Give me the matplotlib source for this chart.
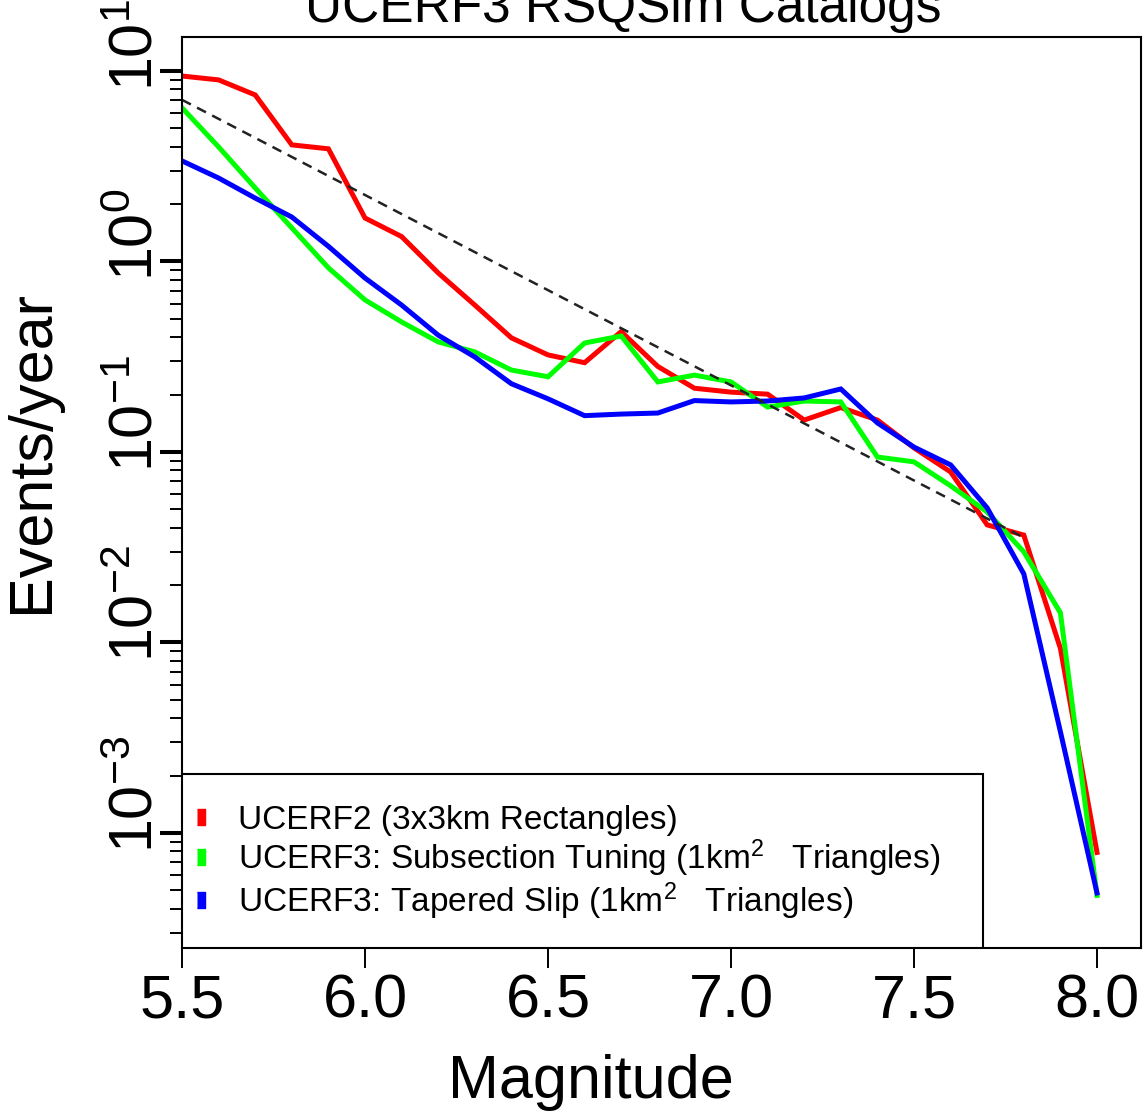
import numpy as np
import matplotlib
matplotlib.use('Agg')
import matplotlib.pyplot as plt
from matplotlib.lines import Line2D
from matplotlib.patches import Rectangle
from matplotlib.transforms import blended_transform_factory, ScaledTranslation

plt.rcParams['font.family'] = ['Liberation Sans', 'DejaVu Sans']
plt.rcParams['mathtext.fontset'] = 'custom'
plt.rcParams['mathtext.rm'] = 'Liberation Sans'
plt.rcParams['mathtext.it'] = 'Liberation Sans:italic'
plt.rcParams['mathtext.bf'] = 'Liberation Sans:bold'

# magnitude bins
mag = [5.5, 5.6, 5.7, 5.8, 5.9, 6.0, 6.1, 6.2, 6.3, 6.4, 6.5, 6.6, 6.7,
       6.8, 6.9, 7.0, 7.1, 7.2, 7.3, 7.4, 7.5, 7.6, 7.7, 7.8, 7.9, 8.0]

# events/year for each catalog
rate_ucerf2 = [9.4, 8.97, 7.48, 4.09, 3.9, 1.69, 1.35, 0.87, 0.59, 0.397, 0.323,
               0.294, 0.428, 0.281, 0.216, 0.206, 0.201, 0.147, 0.171, 0.147,
               0.105, 0.0785, 0.0414, 0.0366, 0.0093, 0.00079]
rate_subsect = [6.40, 3.99, 2.43, 1.50, 0.925, 0.628, 0.481, 0.378, 0.335, 0.269,
                0.248, 0.373, 0.406, 0.233, 0.253, 0.233, 0.172, 0.185, 0.183,
                0.094, 0.0887, 0.0664, 0.0484, 0.0299, 0.0143, 0.00047]
rate_tapered = [3.37, 2.74, 2.15, 1.71, 1.2, 0.818, 0.59, 0.41, 0.315, 0.228,
                0.19, 0.155, 0.158, 0.16, 0.186, 0.183, 0.185, 0.192, 0.214,
                0.142, 0.106, 0.0855, 0.0508, 0.0229, 0.0034, 0.000484]

# Gutenberg-Richter reference line (b = 1)
gr_mag = [5.5, 7.8]
gr_rate = [7.05, 0.0355]

labels = ['UCERF2 (3x3km Rectangles)',
          r'UCERF3: Subsection Tuning (1km$^{2}$   Triangles)',
          r'UCERF3: Tapered Slip (1km$^{2}$   Triangles)']
colors = ['#ff0000', '#00ff00', '#0000ff']
x_ticks = [5.5, 6.0, 6.5, 7.0, 7.5, 8.0]
y_exps = [1, 0, -1, -2, -3]

fig = plt.figure(figsize=(11.43, 11.12), dpi=100)
ax = fig.add_axes([0.15923, 0.14748, 0.83902, 0.81925])

for r, c in zip([rate_ucerf2, rate_subsect, rate_tapered], colors):
    ax.plot(mag, r, color=c, lw=3.6, solid_joinstyle='miter')
ax.plot(gr_mag, gr_rate, color='#222222', lw=1.8, dashes=(4, 2.8))

ax.set_yscale('log')
ax.set_xlim(5.5, 8.1202)
ax.set_ylim(10 ** -3.604, 10 ** 1.178)

ax.set_xticks(x_ticks)
ax.set_xticklabels(['%.1f' % v for v in x_ticks], fontsize=44)
ax.tick_params(axis='x', which='major', length=14.4, width=1.4, pad=4, direction='out')
ax.tick_params(axis='y', which='major', length=15.8, width=2.9, direction='out', labelleft=False)
ax.tick_params(axis='y', which='minor', length=8.6, width=1.4, direction='out', labelleft=False)
for s in ax.spines.values():
    s.set_linewidth(1.5)

# y tick labels, rotated like R
trans = blended_transform_factory(ax.transAxes, ax.transData)
off = ScaledTranslation(-0.29, -0.20, fig.dpi_scale_trans)
for e in y_exps:
    ax.text(0, 10.0 ** e, r'$10^{%d}$' % e, transform=trans + off, rotation=90,
            rotation_mode='anchor', ha='left', va='baseline', fontsize=44)

ax.set_xlabel('Magnitude', fontsize=44)
ax.xaxis.label.set_va('baseline')
ax.xaxis.set_label_coords(0.4265, -0.1647)
ax.set_ylabel('Events/year', fontsize=44)
ax.yaxis.label.set_va('baseline')
ax.yaxis.set_label_coords(-0.1397, 0.5455)

fig.text(0.545, 0.980, 'UCERF3 RSQSim Catalogs', fontsize=37, ha='center', va='baseline')

# legend box
ax.add_patch(Rectangle((0, 0), 0.835, 0.191, transform=ax.transAxes, facecolor='white',
                       edgecolor='black', lw=1.5, zorder=5))
handles = [Line2D([], [], ls='none', marker=[(-1, -1.7), (1, -1.7), (1, 1.7), (-1, 1.7)],
                  markersize=11, color=c) for c in colors]
leg = ax.legend(handles, labels, loc='center left', bbox_to_anchor=(0.0063, 0.093),
                frameon=False, fontsize=24, borderpad=0, borderaxespad=0,
                handlelength=0.75, handletextpad=0.75, labelspacing=0.04)
leg.set_zorder(6)

fig.savefig('out.png', dpi=100)
